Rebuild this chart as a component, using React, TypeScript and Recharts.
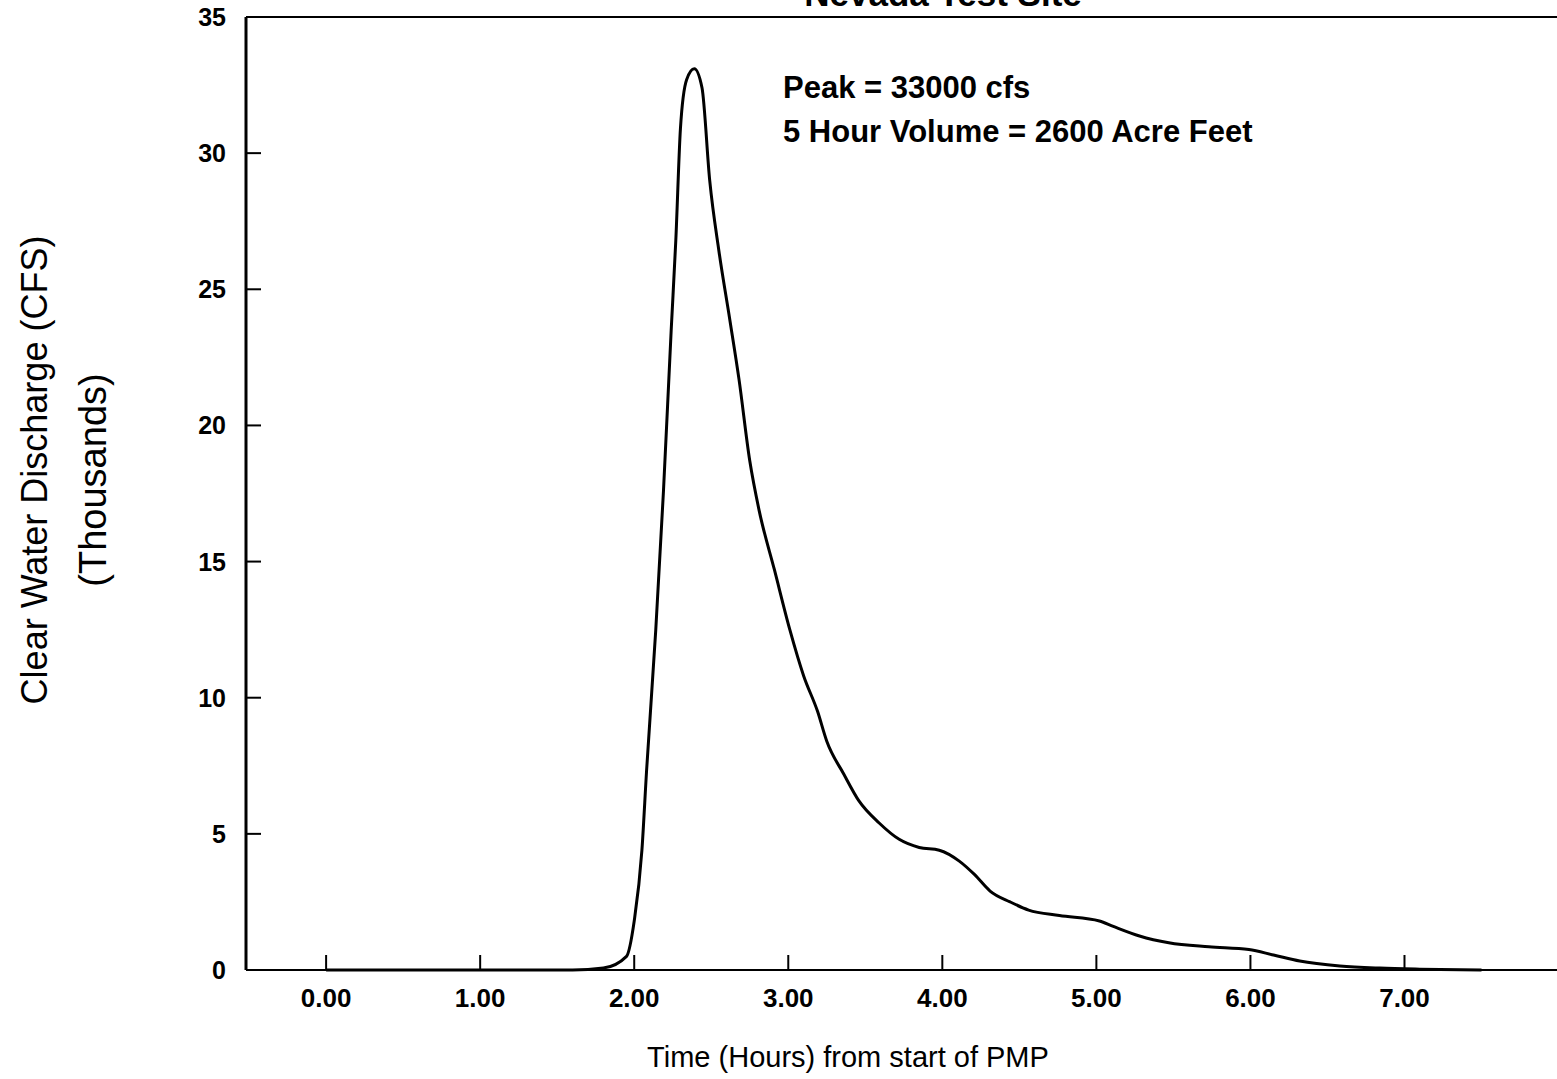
import React from 'react';
import { LineChart, Line, XAxis, YAxis, ReferenceLine } from 'recharts';

// time from start of PMP (hours)
const hours = [
  0, 1.0, 1.6, 1.8, 1.95, 2.0, 2.05, 2.08, 2.14, 2.19, 2.24, 2.27, 2.3, 2.34, 2.39,
  2.44, 2.49, 2.55, 2.62, 2.68, 2.75, 2.81, 2.91, 3.01, 3.1, 3.19, 3.25, 3.36, 3.46,
  3.59, 3.72, 3.85, 3.98, 4.11, 4.21, 4.31, 4.44, 4.56, 4.76, 5.02, 5.11, 5.28, 5.47,
  5.73, 5.99, 6.15, 6.32, 6.58, 6.84, 7.1, 7.5,
];

// clear water discharge (thousands of cfs)
const discharge = [
  0, 0, 0, 0.07, 0.5, 1.8, 4.4, 7.3, 12.5, 17.6, 23.5, 26.8, 30.9, 32.7, 33.1,
  32.4, 29.0, 26.4, 23.9, 21.7, 18.7, 16.9, 14.7, 12.5, 10.8, 9.5, 8.4, 7.2, 6.2,
  5.4, 4.8, 4.5, 4.4, 4.0, 3.5, 2.9, 2.5, 2.2, 2.0, 1.8, 1.6, 1.25, 1.0,
  0.85, 0.75, 0.55, 0.33, 0.15, 0.07, 0.03, 0,
];

const xTicks = [0, 1, 2, 3, 4, 5, 6, 7];
const yTicks = [0, 5, 10, 15, 20, 25, 30, 35];

const data = hours.map((h, i) => ({ h, q: discharge[i] }));

const FONT = '"Liberation Sans", Arial, Helvetica, sans-serif';

const XTick = (props: any) => {
  const { x, y, payload } = props;
  return (
    <g>
      <line x1={x} x2={x} y1={y} y2={y - 15} stroke="#000" strokeWidth={2} />
      <text x={x} y={y + 37} textAnchor="middle" fontSize={26} fontWeight="bold" fontFamily={FONT} fill="#000">
        {Number(payload.value).toFixed(2)}
      </text>
    </g>
  );
};

const YTick = (props: any) => {
  const { x, y, payload } = props;
  return (
    <g>
      <line x1={x} x2={x + 15} y1={y} y2={y} stroke="#000" strokeWidth={2} />
      <text x={x - 20} y={y + 9} textAnchor="end" fontSize={25} fontWeight="bold" fontFamily={FONT} fill="#000">
        {payload.value}
      </text>
    </g>
  );
};

export default function App() {
  return (
    <div style={{ position: 'absolute', left: 0, top: 0, width: 1557, height: 1079, background: '#fff', fontFamily: FONT }}>
      <LineChart width={1557} height={1079} data={data} margin={{ top: 17, right: 0, left: 186, bottom: 49 }}>
        <XAxis
          dataKey="h"
          type="number"
          domain={[-0.52, 7.99]}
          ticks={xTicks}
          allowDataOverflow
          height={60}
          tickSize={0}
          tickMargin={0}
          tickLine={false}
          tick={<XTick />}
          axisLine={{ stroke: '#000', strokeWidth: 2 }}
        />
        <YAxis
          type="number"
          domain={[0, 35]}
          ticks={yTicks}
          width={60}
          tickSize={0}
          tickMargin={0}
          tickLine={false}
          tick={<YTick />}
          axisLine={{ stroke: '#000', strokeWidth: 3 }}
        />
        <ReferenceLine y={35} stroke="#000" strokeWidth={2} />
        <Line
          dataKey="q"
          type="monotone"
          stroke="#000"
          strokeWidth={3}
          dot={false}
          isAnimationActive={false}
        />
      </LineChart>
      <svg width={1557} height={1079} style={{ position: 'absolute', left: 0, top: 0, pointerEvents: 'none' }}>
        <text x={943} y={6} textAnchor="middle" fontSize={35} fontWeight="bold" fontFamily={FONT}>
          Nevada Test Site
        </text>
        <text x={783} y={98} fontSize={31} fontWeight="bold" fontFamily={FONT}>
          Peak = 33000 cfs
        </text>
        <text x={783} y={142} fontSize={31} fontWeight="bold" fontFamily={FONT}>
          5 Hour Volume = 2600 Acre Feet
        </text>
        <text x={848} y={1067} textAnchor="middle" fontSize={29} fontFamily={FONT}>
          Time (Hours) from start of PMP
        </text>
        <text transform="translate(47,470) rotate(-90)" textAnchor="middle" fontSize={36} fontFamily={FONT}>
          Clear Water Discharge (CFS)
        </text>
        <text transform="translate(106,480) rotate(-90)" textAnchor="middle" fontSize={38} fontFamily={FONT}>
          (Thousands)
        </text>
      </svg>
    </div>
  );
}
